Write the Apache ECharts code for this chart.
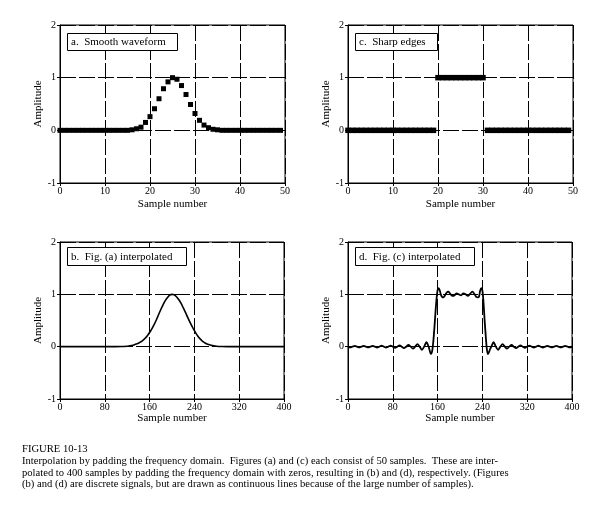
<!DOCTYPE html>
<html><head><meta charset="utf-8">
<script src="https://cdn.jsdelivr.net/npm/echarts@6.0.0/dist/echarts.min.js"></script>
<style>html,body{margin:0;padding:0;background:#fff}#c{width:609px;height:516px}</style>
</head><body><div id="c"></div>
<script>
// (a) Smooth waveform, 50 samples
const aValues = [0,0,0,0,0,0,0,0,0,0,0,0,0,0,0,0,
  0.01,0.03,0.06,0.15,0.26,0.41,0.60,0.79,0.92,1.00,0.97,0.85,0.68,0.49,0.32,0.19,0.10,0.05,0.02,0.01,
  0,0,0,0,0,0,0,0,0,0,0,0,0,0];
// (c) Sharp edges, 50 samples
const cValues = [0,0,0,0,0,0,0,0,0,0,0,0,0,0,0,0,0,0,0,0,
  1,1,1,1,1,1,1,1,1,1,1,
  0,0,0,0,0,0,0,0,0,0,0,0,0,0,0,0,0,0,0];
// (b) Fig (a) interpolated, 400 samples (read at selected sample numbers)
const bX = [0,40,80,100,112,120,128,136,140,144,148,152,156,160,164,168,172,176,180,184,188,192,196,200,
  204,208,212,216,220,224,228,232,236,240,244,248,252,256,260,264,272,280,288,300,320,360,400];
const bY = [0,0,0,0,0.003,0.007,0.02,0.05,0.065,0.09,0.12,0.16,0.21,0.27,0.34,0.42,0.51,0.61,0.71,0.80,0.88,0.94,0.985,1.0,
  0.99,0.955,0.90,0.83,0.745,0.655,0.56,0.47,0.385,0.305,0.235,0.175,0.13,0.09,0.065,0.045,0.02,0.008,0.003,0,0,0,0];
// (d) Fig (c) interpolated, 400 samples (read at selected sample numbers)
const dX = [0,4,8,12,16,20,24,28,32,36,40,44,48,52,56,60,64,68,72,76,80,84,88,92,96,100,104,108,112,116,120,124,128,132,136,140,144,
  146,148,150,152,154,156,158,160,162,164,166,168,170,172,176,179,182,186,190,194,198,202,206,210,214,218,222,226,229,232,234,236,238,240,
  242,244,246,248,250,252,254,256,260,264,268,272,276,280,284,288,292,296,300,304,308,312,316,320,324,328,332,336,340,344,348,352,356,360,
  364,368,372,376,380,384,388,392,396,400];
const dY = [0,-0.015,0,0.015,0,-0.015,0,0.015,0,-0.015,0,0.015,0,-0.016,0,0.018,0,-0.018,0,0.02,0,-0.022,0,0.025,0,-0.028,0,0.032,0,-0.038,0,0.047,0,-0.06,0,0.085,0,
  -0.08,-0.14,-0.1,0.06,0.32,0.62,0.9,1.08,1.12,1.07,0.99,0.95,0.94,0.96,1.03,1.05,1.02,0.97,0.98,1.02,1.0,0.98,1.02,1.0,0.97,1.01,1.05,1.0,0.95,0.94,0.96,1.07,1.12,1.07,
  0.84,0.5,0.2,-0.05,-0.14,-0.1,-0.04,0,0.085,0,-0.06,0,0.047,0,-0.038,0,0.032,0,-0.028,0,0.025,0,-0.022,0,0.02,0,-0.018,0,0.018,0,-0.016,0,0.015,0,
  -0.015,0,0.015,0,-0.015,0,0.015,0,-0.015,0];
const xTicksTop = {min:0, max:50, interval:10};
const xTicksBottom = {min:0, max:400, interval:80};
const yTicks = {min:-1, max:2, interval:1};
const panelTitles = ['a.  Smooth waveform','c.  Sharp edges','b.  Fig. (a) interpolated','d.  Fig. (c) interpolated'];
const captionLines = [
 'FIGURE 10-13',
 'Interpolation by padding the frequency domain.  Figures (a) and (c) each consist of 50 samples.  These are inter-',
 'polated to 400 samples by padding the frequency domain with zeros, resulting in (b) and (d), respectively. (Figures',
 '(b) and (d) are discrete signals, but are drawn as continuous lines because of the large number of samples).'
];

const FONT = '"Liberation Serif","Times New Roman",serif';
const grids = [
  {left:60, top:25, width:225, height:158},
  {left:348, top:25, width:225, height:158},
  {left:60, top:242, width:224, height:157},
  {left:348, top:242, width:224, height:157}
];
const xNameGap = [16,16,13,13];
const yNameGap = [15,12,15,12];
const boxes = [
  {x:67,y:33,w:110,h:17},
  {x:355,y:33,w:82,h:17},
  {x:67,y:247,w:119,h:18},
  {x:355,y:247,w:119,h:18}
];
function xAxisFor(i){
  const t = i<2 ? xTicksTop : xTicksBottom;
  return {type:'value', gridIndex:i, min:t.min, max:t.max, interval:t.interval,
    name:'Sample number', nameLocation:'middle', nameGap:xNameGap[i],
    nameTextStyle:{fontFamily:FONT, fontSize:11, color:'#000'},
    axisLine:{show:true, onZero:false, lineStyle:{color:'#000', width:1}},
    axisTick:{show:true, inside:false, length:3, lineStyle:{color:'#000'}},
    axisLabel:{fontFamily:FONT, fontSize:10, color:'#000', margin:3, showMinLabel:true, showMaxLabel:true},
    splitLine:{show:true, lineStyle:{color:'#000', width:1, type:[16,3]}}};
}
function yAxisFor(i){
  return {type:'value', gridIndex:i, min:yTicks.min, max:yTicks.max, interval:yTicks.interval,
    name:'Amplitude', nameLocation:'middle', nameGap:yNameGap[i],
    nameTextStyle:{fontFamily:FONT, fontSize:11, color:'#000'},
    axisLine:{show:true, onZero:false, lineStyle:{color:'#000', width:1}},
    axisTick:{show:true, inside:false, length:3, lineStyle:{color:'#000'}},
    axisLabel:{fontFamily:FONT, fontSize:10, color:'#000', margin:4, showMinLabel:true, showMaxLabel:true},
    splitLine:{show:true, lineStyle:{color:'#000', width:1, type:[16,3]}}};
}
const graphics = [];
boxes.forEach((b,i)=>{
  graphics.push({type:'rect', z:100, shape:{x:b.x+0.5, y:b.y+0.5, width:b.w, height:b.h},
    style:{fill:'#fff', stroke:'#000', lineWidth:1}});
  graphics.push({type:'text', z:101, x:b.x+4, y:b.y+b.h/2+1,
    style:{text:panelTitles[i], fill:'#000', font:'11px '+FONT, textVerticalAlign:'middle', textAlign:'left'}});
});
const capY = [449.5, 461.5, 473, 484.5];
captionLines.forEach((t,i)=>{
  graphics.push({type:'text', z:100, x:22, y:capY[i],
    style:{text:t, fill:'#000', font:'10.6px '+FONT, textVerticalAlign:'middle', textAlign:'left'}});
});

const option = {
  animation:false,
  backgroundColor:'#fff',
  grid: grids.map(g=>Object.assign({show:true, borderColor:'#000', borderWidth:1, backgroundColor:'transparent', containLabel:false}, g)),
  xAxis: [0,1,2,3].map(xAxisFor),
  yAxis: [0,1,2,3].map(yAxisFor),
  series: [
    {type:'scatter', xAxisIndex:0, yAxisIndex:0, symbol:'rect', symbolSize:5, itemStyle:{color:'#000', opacity:1},
      data: aValues.map((v,k)=>[k,v])},
    {type:'scatter', xAxisIndex:1, yAxisIndex:1, symbol:'rect', symbolSize:5.5, itemStyle:{color:'#000', opacity:1},
      data: cValues.map((v,k)=>[k,v])},
    {type:'line', xAxisIndex:2, yAxisIndex:2, showSymbol:false, smooth:0.4, lineStyle:{color:'#000', width:1.6},
      data: bX.map((x,k)=>[x,bY[k]])},
    {type:'line', xAxisIndex:3, yAxisIndex:3, showSymbol:false, smooth:0.3, lineStyle:{color:'#000', width:1.8},
      data: dX.map((x,k)=>[x,dY[k]])}
  ],
  graphic: graphics
};
const chart = echarts.init(document.getElementById('c'), null, {renderer:'canvas'});
chart.setOption(option);
</script>
</body></html>
